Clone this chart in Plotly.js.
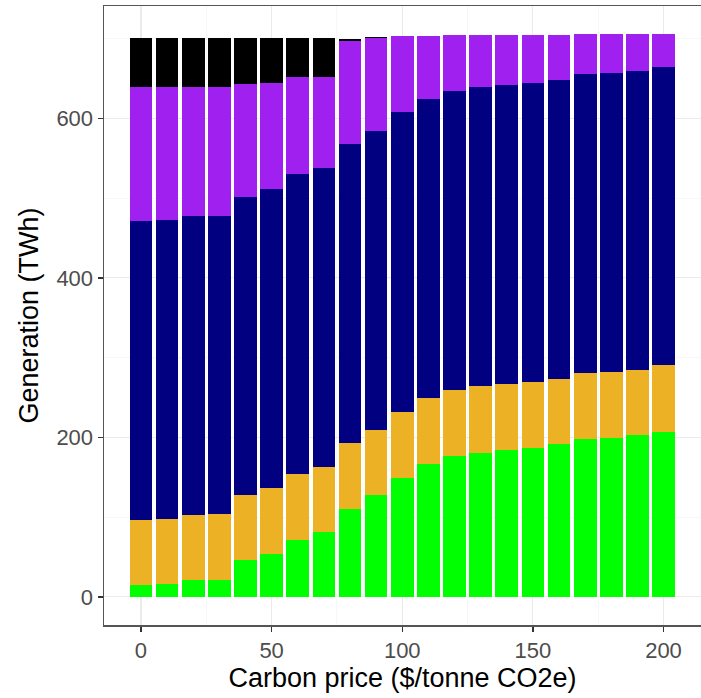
<!DOCTYPE html>
<html>
<head>
<meta charset="utf-8">
<script src="https://cdn.plot.ly/plotly-3.0.1.min.js"></script>
<style>html,body{margin:0;padding:0;background:#fff;}#chart{width:701px;height:698px;}</style>
</head>
<body>
<div id="chart"></div>
<script>
var carbonPrice = [0,10,20,30,40,50,60,70,80,90,100,110,120,130,140,150,160,170,180,190,200];
var green  = [14.6,15.9,21.3,21.3,45.6,54.3,71.9,81.0,110.3,127.4,149.5,167.1,176.7,180.8,183.8,187.1,191.3,197.5,199.6,202.6,206.7];
var orange = [81.9,82.3,81.9,82.3,82.2,82.3,82.6,82.3,82.2,81.8,82.7,82.2,82.6,83.2,82.7,82.7,82.3,82.7,82.2,81.8,83.5];
var navy   = [374.5,374.5,374.5,374.5,373.7,375.0,375.4,374.6,375.8,375.4,375.4,375.4,375.4,374.9,374.9,374.5,374.8,375.0,375.5,375.4,374.2];
var purple = [168.3,166.6,161.6,161.2,142.0,133.4,121.5,114.0,129.4,116.9,95.2,78.9,70.2,66.0,63.5,60.6,56.5,50.5,48.4,45.9,41.3];
var black  = [61.0,61.0,61.0,61.0,56.8,55.3,48.9,48.4,2.3,0.5,0,0,0,0,0,0,0,0,0,0,0];
var yTicks = [0,200,400,600];
var xTicks = [0,50,100,150,200];

var seriesList = [
  {name:'Renewables', y:green,  color:'#00FF00'},
  {name:'Hydro',      y:orange, color:'#EDB125'},
  {name:'Gas',        y:navy,   color:'#000080'},
  {name:'Coal',       y:purple, color:'#A020F0'},
  {name:'Lignite',    y:black,  color:'#000000'}
];
var traces = seriesList.map(function(s){
  return {type:'bar', x:carbonPrice, y:s.y, name:s.name, width:8.7,
          marker:{color:s.color, line:{width:0}}, showlegend:false};
});

var layout = {
  width:701, height:698,
  margin:{l:104, r:0, t:6, b:73},
  barmode:'stack',
  paper_bgcolor:'#ffffff', plot_bgcolor:'#ffffff',
  font:{family:'Liberation Sans, Arial, sans-serif'},
  xaxis:{range:[-14.16,214.35], tickvals:xTicks, ticktext:xTicks.map(String),
    ticks:'outside', ticklen:5, tickwidth:1.5, tickcolor:'#333333',
    tickfont:{size:22, color:'#4d4d4d'},
    showgrid:true, gridcolor:'#ebebeb', gridwidth:1.1,
    minor:{tickvals:[25,75,125,175], showgrid:true, gridcolor:'#f2f2f2', gridwidth:0.6, ticks:''},
    zeroline:false, showline:true, linecolor:'#555555', linewidth:1.5, mirror:true,
    title:{text:'Carbon price ($/tonne CO2e)', font:{size:27, color:'#000000'}, standoff:6}},
  yaxis:{range:[-35.3,741], tickvals:yTicks, ticktext:yTicks.map(String),
    ticks:'outside', ticklen:5, tickwidth:1.5, tickcolor:'#333333',
    tickfont:{size:22, color:'#4d4d4d'},
    showgrid:true, gridcolor:'#ebebeb', gridwidth:1.1,
    minor:{tickvals:[100,300,500,700], showgrid:true, gridcolor:'#f2f2f2', gridwidth:0.6, ticks:''},
    zeroline:false, showline:true, linecolor:'#555555', linewidth:1.5, mirror:true,
    title:{text:'Generation (TWh)', font:{size:27, color:'#000000'}, standoff:10}}
};
Plotly.newPlot('chart', traces, layout, {staticPlot:true, displayModeBar:false});
</script>
</body>
</html>
